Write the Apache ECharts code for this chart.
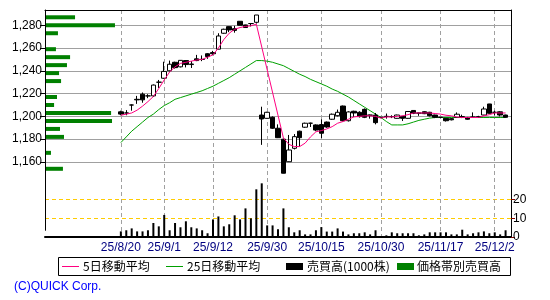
<!DOCTYPE html>
<html><head><meta charset="utf-8">
<script src="https://cdn.jsdelivr.net/npm/echarts@6/dist/echarts.min.js"></script>
<style>html,body{margin:0;padding:0;background:#fff}#c{width:550px;height:300px}</style>
</head><body><div id="c"></div>
<script>
// ---- data ----
const dates = ['25/8/20','25/8/21','25/8/22','25/8/25','25/8/26','25/8/27','25/8/28','25/8/29',
 '25/9/1','25/9/2','25/9/3','25/9/4','25/9/5','25/9/8','25/9/9','25/9/10','25/9/11','25/9/12',
 '25/9/16','25/9/17','25/9/18','25/9/19','25/9/22','25/9/24','25/9/25','25/9/26','25/9/29','25/9/30',
 '25/10/1','25/10/2','25/10/3','25/10/6','25/10/7','25/10/8','25/10/9','25/10/10','25/10/14','25/10/15',
 '25/10/16','25/10/17','25/10/20','25/10/21','25/10/22','25/10/23','25/10/24','25/10/27','25/10/28','25/10/29','25/10/30',
 '25/10/31','25/11/4','25/11/5','25/11/6','25/11/7','25/11/10','25/11/11','25/11/12','25/11/13','25/11/14','25/11/17',
 '25/11/18','25/11/19','25/11/20','25/11/21','25/11/25','25/11/26','25/11/27','25/11/28','25/12/1','25/12/2','25/12/3','25/12/4'];
const tickLabels = ['25/8/20','25/9/1','25/9/12','25/9/30','25/10/15','25/10/30','25/11/17','25/12/2'];
const opens  = [1204,1203,1210,1215,1219.5,1218,1218,1230,1233.5,1240,1247.5,1243.5,1249,1245.5,1250.5,1250,1255,1256,1259,1273,1278.8,1277,1283.5,1280.3,1281.5,1282.6,
 1201.2,1198.3,1199.2,1189.6,1180,1160.2,1172,1187,1190.5,1194,1192.5,1192.8,1195,1197.5,1200.6,1209.1,1196.2,1204.5,1203.6,1206.2,1201.2,1201.2,1199.3,
 1200,1199.8,1198.3,1200,1198.3,1205.2,1203,1204.1,1203.6,1201.2,1199.2,1198.3,1198,1199.2,1199.8,1199,1199.5,1199.5,1201.2,1210.9,1203.6,1204,1201.2];
const closes = [1202,1203,1210,1214.5,1214.5,1218,1227.5,1230,1239.5,1245.8,1242.8,1249.2,1245.5,1246,1249,1250,1252.5,1255,1270.6,1276.5,1275.9,1275.5,1280,1278,1281.5,1289,
 1197.7,1203.6,1189.6,1181.3,1150.1,1170.5,1182.2,1181.3,1194,1194,1188,1185.2,1190.7,1201.9,1203.6,1196.2,1203.9,1203,1199.8,1199.2,1201,1194.5,1199,
 1200,1199.8,1201.2,1198.3,1204.3,1202.7,1202.8,1202.4,1200.6,1199.2,1199.2,1196.2,1197,1201.9,1199.8,1197.5,1199.2,1199.8,1206.5,1202.7,1203.6,1201.2,1199.2];
const lows   = [1201,1201,1205,1211,1212,1216,1217,1225,1233,1239.5,1242,1243,1243,1242.5,1248.5,1248.5,1250.5,1253.8,1259,1272.5,1274,1273.5,1280,1278,1279,1281.5,
 1175,1198,1189,1181,1150,1160,1171,1173.5,1190,1190.7,1187,1181,1190,1197,1200,1195.5,1195.5,1199.5,1199,1198.5,1198,1193,1198.5,
 1198,1198.5,1198,1196,1198,1202,1200.5,1202,1200,1198.5,1198.5,1195.5,1196.5,1199,1198.5,1197,1199,1199,1201,1202.5,1201,1200,1199];
const highs  = [1205,1205.5,1210.5,1218,1221,1219.5,1228,1232,1248,1249,1248,1249.5,1249.5,1248.5,1254,1253.5,1255.5,1257.5,1273,1277,1279,1279.5,1283.5,1280.5,1282,1289,
 1208.5,1204,1200,1193,1180.5,1183.7,1184.5,1187.5,1194.5,1194.5,1193,1197.5,1195.5,1202.5,1206,1209.5,1204.5,1205,1204.5,1207,1201.5,1203,1199.5,
 1202.5,1201,1201.5,1200.5,1204.5,1205.5,1203.2,1204.5,1204,1201.5,1199.5,1198.5,1198.5,1203.5,1201.5,1199.5,1203.5,1200.5,1208.5,1211,1205,1204.5,1201.5];
const volumes = [3.0,3.6,4.6,3.0,3.0,3.6,7.5,5.7,11.8,3.6,7.5,5.2,8.4,5.2,4.6,3.6,2.0,9.4,11.0,5.7,6.8,11.6,9.4,15.3,10.0,25.5,
 28.7,6.2,6.2,4.1,15.3,5.2,2.5,3.6,1.4,1.4,3.6,5.3,2.9,2.9,4.6,2.9,1.4,2.0,2.0,2.5,1.4,3.6,0.4,
 0.9,2.5,2.0,2.0,2.0,2.0,0.9,1.4,2.5,2.5,2.5,2.5,1.4,1.4,3.9,1.4,2.0,2.5,3.0,2.0,2.5,1.4,3.6];
const ma5 = [1201,1202,1203,1205.5,1209,1213,1217.5,1224.5,1232,1239,1243.5,1246.5,1247.5,1248.5,1249.5,1250,1252,1254,1260,1267.5,1273,1276.5,1278,1279,1279.5,1281,
 null,null,null,null,1181,1175.5,1173.5,1173.5,1176.5,1182,1186.5,1187.5,1189,1191,1194,1195.5,1197.5,1199.5,1200,1200.5,1200.5,1200,1198.5,
 1199.5,1199.5,1200,1200.5,1201.5,1203,1203,1203,1203,1202.5,1202,1201,1200.5,1199.5,1199,1199,1199,1199,1200.5,1201.5,1203,1203,1203];
const ma25 = [1177,1182,1187,1191,1195,1199,1202,1206,1209.5,1212,1215,1216.5,1218,1219.5,1221,1222.5,1224.5,1226.5,1229,1231.5,1234,1237,1240,1243,1246,1249,
 1249,1248.5,1247.5,1246,1244.5,1242,1239.5,1237,1235,1232.5,1230.5,1228.5,1226.5,1224,1222,1219.5,1217,1214,1211,1208,1205,1202,1199,
 1195.5,1192.5,1192.5,1192.5,1193.5,1195,1196.5,1197.5,1198.5,1199,1199,1199,1199,1199,1199,1199,1199,1199,1199,1199,1199,1199,1199];
// price band volume (価格帯別売買高)
const bandPrices = [1287,1280,1273,1259,1252,1245,1238,1231,1217,1210,1203,1196,1189,1182,1168,1154];
const bandVolumes = [18.7,44.4,7.7,6.4,15.5,13.5,8.4,9.7,7.1,5.2,41.9,42.5,9.0,11.6,3.2,10.9];
const priceTicks = [1160,1180,1200,1220,1240,1260,1280];
const volTicks = [0,10,20];
const padBefore = 14, padAfter = 1;

// ---- build ----
const cats = [];
for (let i = 0; i < padBefore; i++) cats.push('pre' + i);
dates.forEach(d => cats.push(d));
for (let i = 0; i < padAfter; i++) cats.push('post' + i);
const padArr = (arr, blank) => {
  const out = [];
  for (let i = 0; i < padBefore; i++) out.push(blank);
  arr.forEach(v => out.push(v == null ? '-' : v));
  for (let i = 0; i < padAfter; i++) out.push(blank);
  return out;
};
const candleData = padArr(dates.map((d, i) => [opens[i], closes[i], lows[i], highs[i]]), ['-','-','-','-']);
const showTick = (idx, val) => tickLabels.indexOf(val) >= 0;
const fmt = v => String(v).replace(/\B(?=(\d{3})+(?!\d))/g, ',');
const FONT = "'Liberation Sans Narrow','Liberation Sans',sans-serif";
const JFONT = "'Noto Sans CJK JP',sans-serif";
const gray = '#a0a0a0';

const chart = echarts.init(document.getElementById('c'), null, {renderer: 'canvas'});
chart.setOption({
  animation: false,
  backgroundColor: '#fff',
  grid: [
    {left: 45, right: 39, top: 10, height: 220.3},
    {left: 45, right: 39, top: 10, height: 227}
  ],
  xAxis: [
    {gridIndex: 0, type: 'category', data: cats, boundaryGap: false, position: 'top',
     axisLine: {show: true, lineStyle: {color: '#000', width: 1}}, axisTick: {show: false},
     axisLabel: {show: false}, splitLine: {show: false}},
    {gridIndex: 1, type: 'category', data: cats, boundaryGap: false, position: 'bottom',
     axisLine: {show: true, lineStyle: {color: '#000', width: 2}}, axisTick: {show: false},
     axisLabel: {show: true, interval: showTick, color: '#000080', fontSize: 12, fontFamily: FONT, margin: 5},
     splitLine: {show: true, interval: showTick, lineStyle: {color: gray, type: [4, 3], width: 1}}},
    {gridIndex: 0, type: 'value', min: 0, max: 300, show: false}
  ],
  yAxis: [
    {gridIndex: 0, type: 'value', min: 1100, max: 1293.4, interval: 20, position: 'left',
     axisLine: {show: true, lineStyle: {color: '#000', width: 1}},
     axisTick: {show: true, length: 5, customValues: priceTicks, lineStyle: {color: '#000'}},
     axisLabel: {show: true, customValues: priceTicks, formatter: v => fmt(v), color: '#000', fontSize: 12, fontFamily: FONT, margin: 3},
     splitLine: {show: true, lineStyle: {color: gray, width: 1}}},
    {gridIndex: 1, type: 'value', min: 0, max: 121.4, interval: 10, position: 'right',
     axisLine: {show: true, lineStyle: {color: '#000', width: 1}},
     axisTick: {show: true, length: 4, customValues: volTicks, lineStyle: {color: '#800000'}},
     axisLabel: {show: true, customValues: volTicks, color: '#000', fontSize: 12, fontFamily: FONT, margin: 2},
     splitLine: {show: true, lineStyle: {color: '#ffcc00', type: [4, 3], width: 1}}}
  ],
  series: [
    {type: 'bar', name: '売買高(1000株)', xAxisIndex: 1, yAxisIndex: 1, data: padArr(volumes, '-'),
     barWidth: 2, itemStyle: {color: '#000'}, z: 2},
    {type: 'custom', name: '価格帯別売買高', xAxisIndex: 2, yAxisIndex: 0,
     data: bandPrices.map((p, i) => [bandVolumes[i], p]),
     renderItem: (params, api) => {
       const a = api.coord([0, api.value(1)]);
       const b = api.coord([api.value(0), api.value(1)]);
       return {type: 'rect', shape: {x: a[0] + 1, y: a[1] - 2, width: b[0] - a[0], height: 4},
               style: {fill: '#008000'}};
     }, z: 3},
    {type: 'line', name: '25日移動平均', xAxisIndex: 0, yAxisIndex: 0, data: padArr(ma25, '-'),
     showSymbol: false, symbol: 'none', lineStyle: {color: '#00a000', width: 1}, z: 3},
    {type: 'candlestick', name: '株価', xAxisIndex: 0, yAxisIndex: 0, data: candleData,
     barWidth: 5, clip: false,
     itemStyle: {color: '#fff', color0: '#000', borderColor: '#000', borderColor0: '#000', borderColorDoji: '#000', borderWidth: 1}, z: 4},
    {type: 'line', name: '5日移動平均', xAxisIndex: 0, yAxisIndex: 0, data: padArr(ma5, '-'),
     connectNulls: true, showSymbol: false, symbol: 'none', lineStyle: {color: '#ff0080', width: 1}, z: 5}
  ],
  graphic: [
    {type: 'rect', shape: {x: 58.5, y: 257.5, width: 452, height: 18}, style: {fill: '#fff', stroke: '#000', lineWidth: 1}},
    {type: 'line', shape: {x1: 62, y1: 266.5, x2: 79, y2: 266.5}, style: {stroke: '#ff0080', lineWidth: 1}},
    {type: 'text', x: 83, y: 266.5, style: {text: '5日移動平均', font: '12px ' + JFONT, fill: '#000', verticalAlign: 'middle'}},
    {type: 'line', shape: {x1: 166, y1: 266.5, x2: 183, y2: 266.5}, style: {stroke: '#00a000', lineWidth: 1}},
    {type: 'text', x: 187, y: 266.5, style: {text: '25日移動平均', font: '12px ' + JFONT, fill: '#000', verticalAlign: 'middle'}},
    {type: 'rect', shape: {x: 286, y: 263, width: 17, height: 7}, style: {fill: '#000'}},
    {type: 'text', x: 307, y: 266.5, style: {text: '売買高(1000株)', font: '12px ' + JFONT, fill: '#000', verticalAlign: 'middle'}},
    {type: 'rect', shape: {x: 397, y: 263, width: 17, height: 7}, style: {fill: '#008000'}},
    {type: 'text', x: 417, y: 266.5, style: {text: '価格帯別売買高', font: '12px ' + JFONT, fill: '#000', verticalAlign: 'middle'}},
    {type: 'text', x: 14, y: 287, style: {text: '(C)QUICK Corp.', font: '12px ' + FONT, fill: '#0000ff', verticalAlign: 'middle'}}
  ]
});
</script>
</body></html>
